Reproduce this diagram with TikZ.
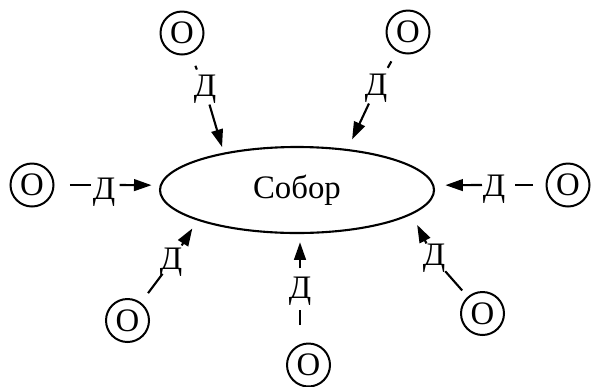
\documentclass[tikz,border=0pt]{standalone}
\usepackage{fontspec}
\setmainfont{Liberation Serif}
\usetikzlibrary{shapes.geometric,arrows.meta}
\begin{document}
\begin{tikzpicture}[x=0.03cm,y=-0.03cm,
    obj/.style={draw,circle,line width=1.7pt,minimum size=1.29cm,inner sep=0pt},
    dlab/.style={inner sep=0.5pt},
    link/.style={line width=1.8pt},
    flow/.style={line width=1.8pt,-{Triangle[length=15pt,width=10pt]}},
    font=\fontsize{28}{32}\selectfont]
\useasboundingbox (0,0) rectangle (592,386);
\node[draw,ellipse,line width=1.8pt,minimum width=8.22cm,minimum height=2.58cm,inner sep=0pt] (sobor) at (297,190) {Собор};
\foreach \n/\ox/\oy/\dx/\dy in {1/182/33/205/89.5, 2/408/32/376/88.5, 3/32/185/104/192,
    4/568/185/494/189, 5/127.5/320.5/171/262.5, 6/308.5/365/300/291.5, 7/482.5/313.5/434/258.5}{
    \node[obj] (o\n) at (\ox,\oy) {О};
    \node[dlab] (d\n) at (\dx,\dy) {Д};
}
% links
\draw[link,shorten <=11pt,shorten >=4.5pt] (o1) -- (d1);
\draw[link,shorten <=9.6pt,shorten >=5.5pt] (o2) -- (d2);
\draw[link,shorten <=13.2pt,shorten >=1pt] (o3) -- (o3 -| d3.west);
\draw[link,shorten <=10.6pt,shorten >=8pt] (o4) -- (o4 -| d4.east);
\draw[link,shorten <=10pt,shorten >=-4pt] (o5) -- (d5);
\draw[link,shorten <=14.9pt,shorten >=3pt] (o6.north -| d6) -- (d6.south);
\draw[link,shorten <=7pt,shorten >=-1pt] (o7) -- (d7);
% arrows
\draw[flow,shorten >=5pt] (d1) -- (sobor.153);
\draw[flow,shorten >=9pt] (d2) -- (sobor.39);
\draw[flow,shorten <=3pt,shorten >=7pt] (d3.east |- o3) -- (sobor.178);
\draw[flow,shorten >=9.5pt] (d4.west |- o4) -- (sobor.2);
\draw[flow,shorten <=2pt,shorten >=8pt] (d5) -- (sobor.197);
\draw[flow,shorten <=7pt,shorten >=7pt] (d6.north) -- (d6 |- sobor.south);
\draw[flow,shorten >=10pt] (d7) -- (sobor.348);
\end{tikzpicture}
\end{document}
